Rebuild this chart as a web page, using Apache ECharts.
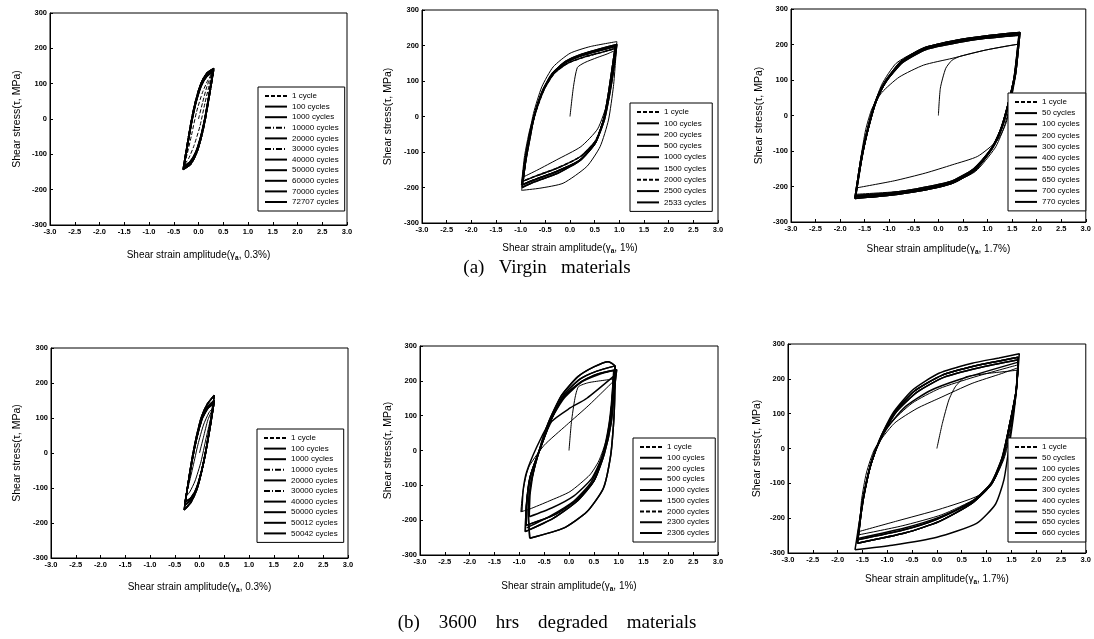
<!DOCTYPE html>
<html><head><meta charset="utf-8">
<script src="https://cdn.jsdelivr.net/npm/echarts@6/dist/echarts.min.js"></script>
<style>html,body{margin:0;padding:0;background:#fff}#c{width:1094px;height:639px}</style>
</head><body><div id="c"></div>
<script>
// ---------- axis ranges ----------
const strainRange = [-3, 3];
const stressRange = [-300, 300];
const strainStep = 0.5;
const stressStep = 100;
const amplitudes = ['0.3%', '1%', '1.7%', '0.3%', '1%', '1.7%'];
const captions = ['(a)   Virgin   materials', '(b)    3600    hrs    degraded    materials'];

// ---------- legend labels ----------
const v03Names = ['1 cycle','100 cycles','1000 cycles','10000 cycles','20000 cycles','30000 cycles','40000 cycles','50000 cycles','60000 cycles','70000 cycles','72707 cycles'];
const v10Names = ['1 cycle','100 cycles','200 cycles','500 cycles','1000 cycles','1500 cycles','2000 cycles','2500 cycles','2533 cycles'];
const v17Names = ['1 cycle','50 cycles','100 cycles','200 cycles','300 cycles','400 cycles','550 cycles','650 cycles','700 cycles','770 cycles'];
const d03Names = ['1 cycle','100 cycles','1000 cycles','10000 cycles','20000 cycles','30000 cycles','40000 cycles','50000 cycles','50012 cycles','50042 cycles'];
const d10Names = ['1 cycle','100 cycles','200 cycles','500 cycles','1000 cycles','1500 cycles','2000 cycles','2300 cycles','2306 cycles'];
const d17Names = ['1 cycle','50 cycles','100 cycles','200 cycles','300 cycles','400 cycles','550 cycles','650 cycles','660 cycles'];

// ---------- loops: [strain %, stress MPa] ----------
// virgin, 0.3 %
const v03Cyc1 = [[0,0],[0.08,45],[0.17,92],[0.27,128],[0.22,98],[0.13,45],[0.03,-20],[-0.09,-75],[-0.20,-112],[-0.29,-130],[-0.23,-100],[-0.14,-45],[-0.04,20],[0.08,75],[0.19,110],[0.27,128]];
const v03A = [[-0.30,-138],[-0.26,-105],[-0.20,-55],[-0.13,0],[-0.05,50],[0.05,95],[0.17,124],[0.30,138],[0.26,105],[0.20,55],[0.13,0],[0.05,-50],[-0.05,-95],[-0.17,-124],[-0.30,-138]];
const v03B = [[-0.31,-143],[-0.27,-108],[-0.21,-58],[-0.14,-2],[-0.06,50],[0.04,97],[0.16,128],[0.31,143],[0.27,108],[0.21,58],[0.14,2],[0.06,-50],[-0.04,-97],[-0.16,-128],[-0.31,-143]];
const v03C = [[-0.29,-133],[-0.25,-100],[-0.19,-50],[-0.12,3],[-0.04,52],[0.06,95],[0.17,121],[0.29,133],[0.25,100],[0.19,50],[0.12,-3],[0.04,-52],[-0.06,-95],[-0.17,-121],[-0.29,-133]];
// virgin, 1 %
const v10Cyc1 = [[0,0],[0.07,84],[0.15,138],[0.30,152],[0.55,166],[0.75,176],[0.93,187],[0.87,120],[0.76,40],[0.56,-35],[0.22,-85],[-0.27,-122],[-0.65,-150],[-0.97,-172],[-0.92,-110],[-0.82,-40],[-0.68,25],[-0.48,90],[-0.18,145],[0.30,178],[0.93,200]];
const v10Out = [[-0.98,-208],[-0.93,-150],[-0.87,-85],[-0.74,9],[-0.57,84],[-0.34,140],[0.00,178],[0.41,197],[0.95,211],[0.92,150],[0.88,84],[0.78,-10],[0.61,-85],[0.34,-141],[-0.14,-188],[-0.61,-202],[-0.98,-208]];
const v10A = [[-0.98,-193],[-0.91,-122],[-0.82,-55],[-0.71,9],[-0.54,75],[-0.34,122],[-0.07,154],[0.27,173],[0.60,186],[0.92,198],[0.85,131],[0.78,65],[0.68,-10],[0.51,-75],[0.20,-123],[-0.27,-155],[-0.74,-179],[-0.98,-193]];
const v10B = [[-0.97,-200],[-0.90,-128],[-0.81,-60],[-0.72,5],[-0.56,72],[-0.36,121],[-0.09,155],[0.25,176],[0.60,190],[0.95,203],[0.88,128],[0.80,60],[0.70,-8],[0.52,-73],[0.22,-122],[-0.25,-160],[-0.72,-184],[-0.97,-200]];
const v10C = [[-0.95,-182],[-0.89,-115],[-0.80,-45],[-0.69,15],[-0.52,78],[-0.32,122],[-0.05,150],[0.30,168],[0.62,180],[0.93,192],[0.86,125],[0.79,60],[0.69,-5],[0.52,-68],[0.22,-112],[-0.25,-145],[-0.70,-168],[-0.95,-182]];
// virgin, 1.7 %
const v17Cyc1 = [[0,0],[0.04,77],[0.15,133],[0.28,156],[0.45,167],[0.95,184],[1.40,196],[1.63,201],[1.56,120],[1.50,60],[1.38,-20],[1.20,-70],[0.80,-115],[0.28,-139],[-0.26,-162],[-0.90,-184],[-1.67,-204],[-1.58,-120],[-1.48,-40],[-1.35,20],[-1.15,65],[-0.80,108],[-0.30,142],[0.28,161],[0.95,184],[1.63,201]];
const v17L50 = [[-1.69,-222],[-1.58,-140],[-1.46,-55],[-1.34,15],[-1.15,88],[-0.86,147],[-0.40,183],[0.30,205],[1.00,218],[1.65,225],[1.58,120],[1.46,30],[1.32,-40],[1.15,-92],[0.75,-158],[0.15,-196],[-0.60,-212],[-1.69,-222]];
const v17A = [[-1.69,-229],[-1.55,-111],[-1.41,-27],[-1.27,39],[-1.07,95],[-0.73,152],[-0.26,189],[0.41,210],[1.00,222],[1.65,231],[1.55,111],[1.41,27],[1.27,-39],[1.07,-95],[0.73,-152],[0.26,-189],[-0.41,-210],[-1.00,-222],[-1.69,-229]];
const v17B = [[-1.70,-234],[-1.57,-118],[-1.43,-32],[-1.29,36],[-1.09,94],[-0.75,153],[-0.28,191],[0.40,213],[1.00,225],[1.66,234],[1.57,118],[1.43,32],[1.29,-36],[1.09,-94],[0.75,-153],[0.28,-191],[-0.40,-213],[-1.00,-225],[-1.70,-234]];
const v17C = [[-1.68,-225],[-1.54,-106],[-1.40,-22],[-1.26,42],[-1.06,97],[-0.72,150],[-0.25,186],[0.42,206],[1.00,218],[1.64,227],[1.54,106],[1.40,22],[1.26,-42],[1.06,-97],[0.72,-150],[0.25,-186],[-0.42,-206],[-1.00,-218],[-1.68,-225]];
// degraded, 0.3 %
const d03Cyc1 = [[0,0],[0.08,45],[0.17,95],[0.28,130],[0.22,95],[0.13,40],[0.03,-25],[-0.09,-80],[-0.20,-112],[-0.28,-125],[-0.22,-92],[-0.13,-38],[-0.03,25],[0.08,80],[0.19,115],[0.28,130]];
const d03A = [[-0.30,-150],[-0.26,-115],[-0.20,-62],[-0.13,-5],[-0.05,48],[0.05,100],[0.17,133],[0.30,150],[0.26,115],[0.20,62],[0.13,5],[0.05,-48],[-0.05,-100],[-0.17,-133],[-0.30,-150]];
const d03B = [[-0.31,-163],[-0.27,-125],[-0.21,-68],[-0.14,-8],[-0.06,48],[0.04,103],[0.16,140],[0.30,165],[0.26,125],[0.20,68],[0.13,8],[0.05,-48],[-0.05,-103],[-0.17,-140],[-0.31,-163]];
const d03C = [[-0.29,-140],[-0.25,-105],[-0.19,-55],[-0.12,0],[-0.04,52],[0.06,100],[0.17,128],[0.29,142],[0.25,105],[0.19,55],[0.12,0],[0.04,-52],[-0.06,-100],[-0.17,-128],[-0.29,-140]];
// degraded, 1 %
const d10Cyc1 = [[0,0],[0.05,83],[0.12,150],[0.19,183],[0.40,195],[0.89,205],[0.85,120],[0.75,30],[0.60,-30],[0.42,-70],[0.02,-118],[-0.40,-145],[-0.79,-168],[-0.97,-176],[-0.93,-120],[-0.86,-70],[-0.79,-42],[-0.50,15],[-0.05,73],[0.40,130],[0.89,198]];
const d10B = [[-0.80,-190],[-0.78,-120],[-0.68,-40],[-0.52,28],[-0.35,83],[0.00,120],[0.36,150],[0.89,212],[0.86,130],[0.79,50],[0.66,-20],[0.46,-80],[0.10,-130],[-0.35,-165],[-0.80,-190]];
const d10A = [[-0.88,-233],[-0.86,-160],[-0.79,-80],[-0.58,6],[-0.38,83],[-0.11,159],[0.22,205],[0.56,228],[0.93,243],[0.89,179],[0.83,83],[0.69,-13],[0.49,-90],[0.15,-147],[-0.32,-195],[-0.88,-233]];
const d10O = [[-0.79,-252],[-0.82,-175],[-0.77,-95],[-0.61,-5],[-0.42,78],[-0.15,158],[0.18,212],[0.50,240],[0.79,255],[0.93,241],[0.92,150],[0.90,83],[0.84,-13],[0.69,-109],[0.36,-176],[-0.11,-223],[-0.79,-252]];
const d10C = [[-0.86,-215],[-0.85,-150],[-0.77,-70],[-0.57,10],[-0.37,85],[-0.10,155],[0.25,198],[0.58,220],[0.96,232],[0.91,170],[0.85,80],[0.71,-10],[0.51,-85],[0.17,-140],[-0.30,-185],[-0.86,-215]];
const d10D = [[-0.95,-176],[-0.92,-110],[-0.85,-60],[-0.65,10],[-0.40,80],[-0.10,150],[0.25,196],[0.60,218],[0.90,230],[0.87,160],[0.80,70],[0.66,-20],[0.45,-90],[0.10,-145],[-0.40,-190],[-0.85,-222]];
// degraded, 1.7 %
const d17Cyc1 = [[0,0],[0.11,72],[0.24,139],[0.37,177],[0.57,205],[1.00,215],[1.64,225],[1.57,130],[1.48,40],[1.35,-30],[1.15,-90],[0.84,-135],[0.04,-175],[-0.80,-208],[-1.56,-238],[-1.52,-150],[-1.42,-70],[-1.25,0],[-0.86,72],[-0.40,115],[0.04,144],[0.71,187],[1.30,215],[1.64,232]];
const d17L50 = [[-1.58,-248],[-1.50,-160],[-1.40,-80],[-1.25,-5],[-0.95,70],[-0.50,130],[0.05,172],[0.75,205],[1.63,240],[1.58,140],[1.48,50],[1.35,-25],[1.15,-92],[0.80,-142],[0.10,-190],[-0.70,-222],[-1.58,-248]];
const d17A = [[-1.60,-272],[-1.52,-180],[-1.45,-120],[-1.33,-45],[-1.12,35],[-0.85,105],[-0.45,165],[0.10,210],[0.80,238],[1.64,262],[1.60,168],[1.47,72],[1.33,-23],[1.11,-100],[0.71,-157],[0.04,-210],[-0.63,-242],[-1.60,-272]];
const d17B = [[-1.60,-262],[-1.52,-170],[-1.44,-110],[-1.32,-40],[-1.10,38],[-0.82,105],[-0.40,162],[0.15,205],[0.85,232],[1.64,255],[1.59,160],[1.46,65],[1.31,-28],[1.08,-102],[0.68,-155],[0.00,-203],[-0.68,-234],[-1.60,-262]];
const d17C = [[-1.59,-258],[-1.51,-165],[-1.42,-95],[-1.28,-20],[-1.02,55],[-0.65,118],[-0.15,165],[0.50,200],[1.64,248],[1.59,150],[1.47,58],[1.33,-25],[1.12,-96],[0.75,-150],[0.05,-197],[-0.65,-228],[-1.59,-258]];
const d17O = [[-1.65,-291],[-1.55,-200],[-1.49,-148],[-1.36,-62],[-1.16,24],[-0.89,101],[-0.49,168],[0.04,216],[0.71,245],[1.25,260],[1.66,272],[1.62,200],[1.55,100],[1.45,0],[1.35,-90],[1.18,-160],[0.80,-215],[0.00,-255],[-0.90,-278],[-1.65,-291]];

// which loop belongs to which legend entry
const v03Loops = [v03Cyc1, v03C, v03A, v03B, v03A, v03B, v03A, v03B, v03A, v03C, v03B];
const v10Loops = [v10Cyc1, v10Out, v10B, v10A, v10B, v10A, v10C, v10A, v10C];
const v17Loops = [v17Cyc1, v17L50, v17C, v17A, v17B, v17A, v17B, v17C, v17A, v17B];
const d03Loops = [d03Cyc1, d03C, d03A, d03B, d03A, d03C, d03B, d03A, d03B, d03C];
const d10Loops = [d10Cyc1, d10B, d10C, d10A, d10O, d10A, d10C, d10O, d10D];
const d17Loops = [d17Cyc1, d17L50, d17C, d17B, d17A, d17B, d17A, d17A, d17O];

// ---------- layout / style (not data) ----------
const FONT = 'Liberation Sans';
const gridBoxes = [
  {left:50, top:13, width:297, height:212},
  {left:422, top:10, width:296, height:213},
  {left:791, top:9, width:297, height:213},
  {left:51, top:348, width:297, height:210},
  {left:420, top:346, width:298, height:209},
  {left:788, top:344, width:300, height:209}
];
const xGap = [24, 19, 21, 23, 25, 20];
const yGap = [27, 28, 26, 28, 26, 25];
const legendBox = [
  {left:258, top:87, gap:2.6},
  {left:630, top:103, gap:3.3},
  {left:1008, top:93, gap:3.1},
  {left:257, top:429, gap:2.6},
  {left:633, top:438, gap:2.75},
  {left:1008, top:438, gap:2.75}
];
const dashStyles = [
  {0:[4,2], 3:[6,2,1,2], 5:[6,2,1,2]},
  {6:[4,2]},
  {},
  {1:[6,2,1,2], 3:[4,2]},
  {},
  {}
];

const panels = [
  [v03Names, v03Loops], [v10Names, v10Loops], [v17Names, v17Loops],
  [d03Names, d03Loops], [d10Names, d10Loops], [d17Names, d17Loops]
];

const grid = [], xAxis = [], yAxis = [], legend = [], series = [];
panels.forEach(([names, loops], p) => {
  const g = gridBoxes[p];
  grid.push({left:g.left, top:g.top, width:g.width, height:g.height, show:true, borderColor:'#000', borderWidth:1, backgroundColor:'#fff'});
  xAxis.push({
    type:'value', gridIndex:p, min:strainRange[0], max:strainRange[1], interval:strainStep,
    axisLine:{show:true, onZero:false, lineStyle:{color:'#000', width:1}},
    axisTick:{show:true, inside:true, length:3, lineStyle:{color:'#000'}},
    axisLabel:{formatter:v => v.toFixed(1), fontSize:7.5, fontWeight:'bold', color:'#000', fontFamily:FONT, margin:3},
    splitLine:{show:false},
    name:'Shear strain amplitude(γ{s|a}, ' + amplitudes[p] + ')',
    nameLocation:'middle', nameGap:xGap[p],
    nameTextStyle:{fontSize:10, color:'#000', fontFamily:FONT, rich:{s:{fontSize:6.5, fontWeight:'bold', color:'#000', fontFamily:FONT, padding:[6,0,0,0]}}}
  });
  yAxis.push({
    type:'value', gridIndex:p, min:stressRange[0], max:stressRange[1], interval:stressStep,
    axisLine:{show:true, onZero:false, lineStyle:{color:'#000', width:1}},
    axisTick:{show:true, inside:true, length:3, lineStyle:{color:'#000'}},
    axisLabel:{fontSize:7.5, fontWeight:'bold', color:'#000', fontFamily:FONT, margin:3},
    splitLine:{show:false},
    name:'Shear stress(τ, MPa)', nameLocation:'middle', nameGap:yGap[p],
    nameTextStyle:{fontSize:10.5, color:'#000', fontFamily:FONT}
  });
  const lb = legendBox[p];
  legend.push({
    orient:'vertical', left:lb.left, top:lb.top, data:names,
    itemWidth:22, itemHeight:8, itemGap:lb.gap, padding:[5,6,5,6],
    borderColor:'#000', borderWidth:1, backgroundColor:'#fff',
    selectedMode:false,
    itemStyle:{color:'rgba(0,0,0,0)', borderColor:'rgba(0,0,0,0)', borderWidth:0, opacity:0},
    textStyle:{fontSize:8, color:'#000', fontFamily:FONT}
  });
  names.forEach((n, i) => {
    const thin = (i === 0 || loops[i] === v10Out || loops[i] === v17L50 || loops[i] === d17L50);
    series.push({
      name:n, type:'line', xAxisIndex:p, yAxisIndex:p, data:loops[i],
      symbol:'none', smooth:0.2, silent:true, animation:false,
      itemStyle:{color:'#000'},
      lineStyle:{color:'#000', width: thin ? 1 : 1.5, type: dashStyles[p][i] || 'solid'},
      z: 2
    });
  });
});

const chart = echarts.init(document.getElementById('c'));
chart.setOption({
  backgroundColor:'#fff',
  color:['#000'],
  animation:false,
  grid, xAxis, yAxis, legend, series,
  graphic:[
    {type:'text', left:'center', top:259, style:{text:captions[0], font:'19px "Liberation Serif"', fill:'#000'}},
    {type:'text', left:'center', top:614, style:{text:captions[1], font:'19px "Liberation Serif"', fill:'#000'}}
  ]
});
</script>
</body></html>
